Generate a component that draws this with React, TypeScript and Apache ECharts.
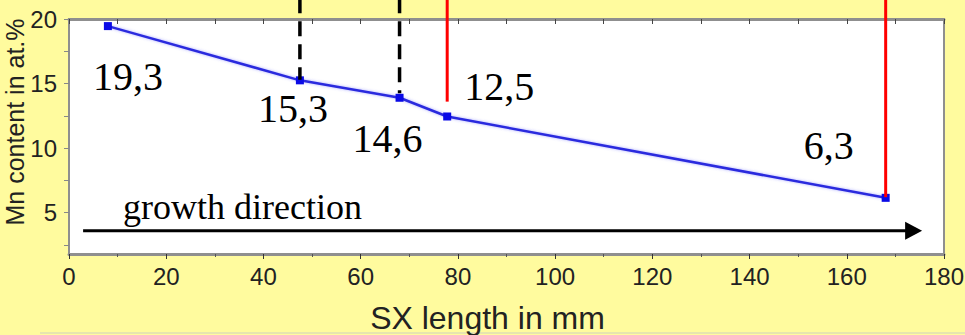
import React, { useEffect, useRef } from "react";
import * as echarts from "echarts";

// ---- data ----
const sxLength = [8, 47.5, 68, 77.8, 168];
const mnContent = [19.45, 15.25, 13.9, 12.45, 6.15];
const pointLabels = ["19,3", "15,3", "14,6", "12,5", "6,3"];

const xTickValues = [0, 20, 40, 60, 80, 100, 120, 140, 160, 180];
const yLabelValues = [5, 10, 15, 20];
const yTickValues = [2.5, 5, 7.5, 10, 12.5, 15, 17.5, 20];

const dashedGuideX = [47.5, 68];
const dashedGuideEnd = [15.3, 14.25];
const redGuideX = [77.8, 168];
const redGuideEnd = [13.6, 6.2];
const guideTop = 21.6;

const arrowFrom = [2.9, 3.6];
const arrowTo = [175.5, 3.6];
const arrowText = "growth direction";
const arrowTextAt = [11.1, 5.45];

const xName = "SX length in mm";
const yName = "Mn content in at.%";

export default function App() {
  const ref = useRef<HTMLDivElement>(null);

  useEffect(() => {
    if (!ref.current) return;
    const chart = echarts.init(ref.current, null, { renderer: "svg" });
    const labelOffsets = [
      [20, 50],
      [-7, 28],
      [-12, 41],
      [52, -30],
      [-57, -52],
    ];
    const sans = "'Liberation Sans', Arial, sans-serif";
    const serif = "'Liberation Serif', 'Times New Roman', serif";
    const axisGray = "#8f8f8f";

    const guides = [
      ...dashedGuideX.map((x, i) => [x, dashedGuideEnd[i], 0]),
      ...redGuideX.map((x, i) => [x, redGuideEnd[i], 1]),
    ];

    const option: any = {
      animation: false,
      backgroundColor: "#fffb9e",
      grid: {
        left: 69,
        right: 21,
        top: 19,
        bottom: 81,
        show: true,
        backgroundColor: "#ffffff",
        borderColor: axisGray,
        borderWidth: 2,
        containLabel: false,
        outerBoundsMode: "none",
      },
      xAxis: [
        {
          type: "value",
          min: 0,
          max: 180,
          interval: 20,
          position: "bottom",
          name: xName,
          nameLocation: "middle",
          nameGap: 48,
          nameTextStyle: {
            fontFamily: sans,
            fontSize: 32,
            color: "#222",
            padding: [0, 38, 0, 0],
          },
          axisLine: { show: true, lineStyle: { color: axisGray, width: 3 } },
          axisTick: { show: true, inside: false, length: 5, lineStyle: { color: "#333", width: 1 } },
          minorTick: { show: true, splitNumber: 2, length: 3, lineStyle: { color: "#555" } },
          axisLabel: {
            fontFamily: sans,
            fontSize: 24,
            color: "#222",
            margin: 10,
            customValues: xTickValues,
          },
          splitLine: { show: false },
        },
        {
          type: "value",
          min: 0,
          max: 180,
          interval: 20,
          position: "top",
          axisLine: { show: true, lineStyle: { color: axisGray, width: 3 } },
          axisTick: { show: true, inside: true, length: 5, lineStyle: { color: "#444" } },
          minorTick: { show: true, splitNumber: 2, length: 5, lineStyle: { color: "#444" } },
          axisLabel: { show: false },
          splitLine: { show: false },
        },
      ],
      yAxis: [
        {
          type: "value",
          min: 1.8,
          max: 20,
          position: "left",
          axisLine: { show: true, lineStyle: { color: "#333", width: 1.5 } },
          axisTick: {
            show: true,
            inside: false,
            length: 5,
            customValues: yTickValues,
            lineStyle: { color: "#555" },
          },
          axisLabel: {
            fontFamily: sans,
            fontSize: 24,
            color: "#222",
            margin: 12,
            customValues: yLabelValues,
          },
          splitLine: { show: false },
        },
        {
          type: "value",
          min: 1.8,
          max: 20,
          position: "right",
          axisLine: { show: true, lineStyle: { color: axisGray, width: 2 } },
          axisTick: {
            show: true,
            inside: true,
            length: 5,
            customValues: yTickValues,
            lineStyle: { color: "#888" },
          },
          axisLabel: { show: false },
          splitLine: { show: false },
        },
      ],
      series: [
        {
          type: "line",
          data: sxLength.map((x, i) => [x, mnContent[i]]),
          symbol: "rect",
          symbolSize: 8,
          itemStyle: { color: "#0a0ae6" },
          lineStyle: {
            color: "#2a2ade",
            width: 2.5,
            shadowColor: "rgba(90,90,255,0.5)",
            shadowBlur: 3,
          },
          z: 3,
        },
        {
          type: "custom",
          clip: false,
          z: 4,
          data: guides,
          renderItem: (params: any, api: any) => {
            const x = api.value(0);
            const top = api.coord([x, guideTop]);
            const end = api.coord([x, api.value(1)]);
            const red = api.value(2) === 1;
            return {
              type: "line",
              shape: { x1: top[0], y1: top[1], x2: end[0], y2: end[1] },
              style: red
                ? { stroke: "#ff0000", lineWidth: 3 }
                : { stroke: "#000000", lineWidth: 3.5, lineDash: [15, 8] },
            };
          },
        },
        {
          type: "custom",
          clip: false,
          z: 5,
          data: sxLength.map((x, i) => [x, mnContent[i], i]),
          renderItem: (params: any, api: any) => {
            const p = api.coord([api.value(0), api.value(1)]);
            const i = api.value(2);
            const off = labelOffsets[i];
            return {
              type: "text",
              x: p[0] + off[0],
              y: p[1] + off[1],
              style: {
                text: pointLabels[i],
                fontFamily: serif,
                fontSize: 40,
                fill: "#000",
                align: "center",
                verticalAlign: "middle",
              },
            };
          },
        },
        {
          type: "custom",
          clip: false,
          z: 5,
          data: [[arrowFrom[0], arrowFrom[1], arrowTo[0], arrowTo[1]]],
          renderItem: (params: any, api: any) => {
            const a = api.coord([api.value(0), api.value(1)]);
            const b = api.coord([api.value(2), api.value(3)]);
            const t = api.coord(arrowTextAt);
            const headL = 17;
            const headH = 9;
            return {
              type: "group",
              children: [
                {
                  type: "line",
                  shape: { x1: a[0], y1: a[1], x2: b[0] - headL + 2, y2: b[1] },
                  style: { stroke: "#000", lineWidth: 3 },
                },
                {
                  type: "polygon",
                  shape: {
                    points: [
                      [b[0], b[1]],
                      [b[0] - headL, b[1] - headH],
                      [b[0] - headL, b[1] + headH],
                    ],
                  },
                  style: { fill: "#000" },
                },
                {
                  type: "text",
                  x: t[0],
                  y: t[1],
                  style: {
                    text: arrowText,
                    fontFamily: serif,
                    fontSize: 36,
                    fill: "#000",
                    align: "left",
                    verticalAlign: "middle",
                  },
                },
              ],
            };
          },
        },
      ],
      graphic: [
        {
          type: "text",
          x: 15,
          y: 122,
          rotation: Math.PI / 2,
          style: {
            text: yName,
            fontFamily: sans,
            fontSize: 25,
            fill: "#222",
            align: "center",
            verticalAlign: "middle",
          },
        },
        {
          type: "line",
          shape: { x1: 40, y1: 333, x2: 965, y2: 333 },
          style: { stroke: "#cfcfc0", lineWidth: 1 },
        },
      ],
    };
    chart.setOption(option);
    return () => chart.dispose();
  }, []);

  return (
    <div
      ref={ref}
      style={{ position: "fixed", left: 0, top: 0, width: 965, height: 335, background: "#fffb9e" }}
    />
  );
}
